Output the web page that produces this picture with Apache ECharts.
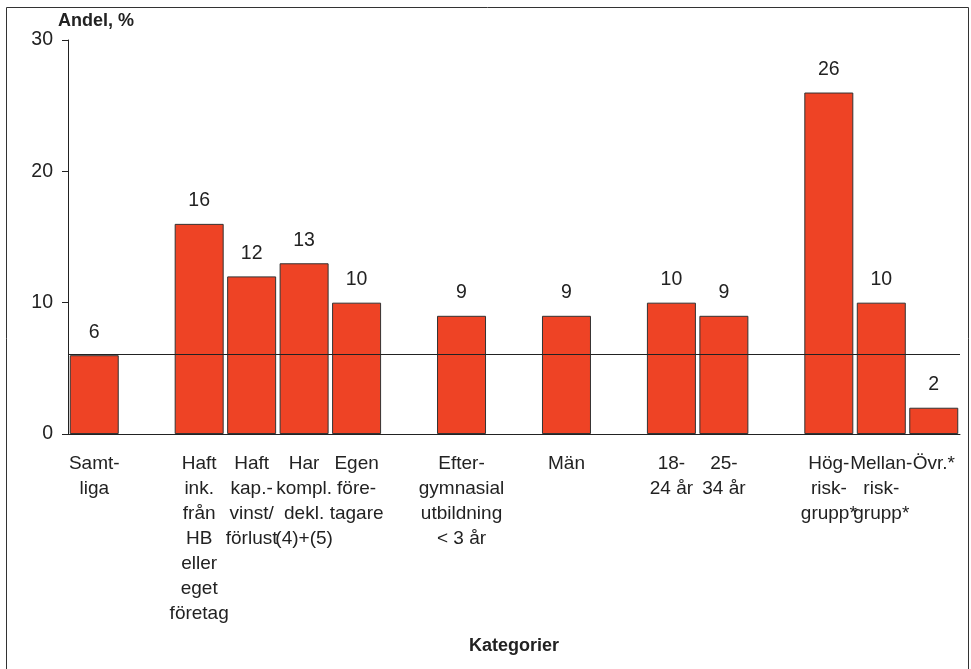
<!DOCTYPE html>
<html>
<head>
<meta charset="utf-8">
<script src="https://cdn.jsdelivr.net/npm/echarts@6/dist/echarts.min.js"></script>
<style>
  html, body { margin: 0; padding: 0; background: #fff; }
  #chart { width: 971px; height: 669px; }
</style>
</head>
<body>
<div id="chart"></div>
<script>
const categories = [
  'Samt-\nliga', '',
  'Haft\nink.\nfrån\nHB\neller\neget\nföretag',
  'Haft\nkap.-\nvinst/\nförlust',
  'Har\nkompl.\ndekl.\n(4)+(5)',
  'Egen\nföre-\ntagare', '',
  'Efter-\ngymnasial\nutbildning\n< 3 år', '',
  'Män', '',
  '18-\n24 år', '25-\n34 år', '',
  'Hög-\nrisk-\ngrupp*', 'Mellan-\nrisk-\ngrupp*', 'Övr.*'
];
const values = [6, null, 16, 12, 13, 10, null, 9, null, 9, null, 10, 9, null, 26, 10, 2];
const referenceLevel = 6.1;
const yTicks = [0, 10, 20, 30];

const font = "'Liberation Sans', Arial, sans-serif";
const chart = echarts.init(document.getElementById('chart'));

chart.setOption({
  animation: false,
  textStyle: { fontFamily: font },
  graphic: [{
    type: 'rect',
    shape: { x: 6.5, y: 7.5, width: 962, height: 700 },
    style: { fill: 'none', stroke: '#333', lineWidth: 1 },
    silent: true
  }],
  grid: { left: 68, right: 11, top: 40, bottom: 235 },
  xAxis: {
    type: 'category',
    data: categories,
    name: 'Kategorier',
    nameLocation: 'middle',
    nameGap: 203,
    nameTextStyle: { fontFamily: font, fontSize: 18, fontWeight: 'bold', color: '#222' },
    axisLine: { lineStyle: { color: '#222', width: 1 } },
    axisTick: { show: false },
    axisLabel: {
      interval: 0,
      hideOverlap: false,
      margin: 17,
      fontFamily: font,
      fontSize: 19,
      lineHeight: 25,
      color: '#222',
      verticalAlign: 'top'
    }
  },
  yAxis: {
    type: 'value',
    min: yTicks[0],
    max: yTicks[yTicks.length - 1],
    interval: 10,
    name: 'Andel, %',
    nameLocation: 'end',
    nameGap: 4,
    nameTextStyle: { fontFamily: font, fontSize: 18, fontWeight: 'bold', color: '#222', align: 'left', padding: [0, 0, 0, -10] },
    axisLine: { show: true, lineStyle: { color: '#222', width: 1 } },
    axisTick: { show: true, length: 6, lineStyle: { color: '#222' } },
    splitLine: { show: false },
    axisLabel: { fontFamily: font, fontSize: 19.5, color: '#222', margin: 15 }
  },
  series: [{
    type: 'bar',
    data: values,
    barWidth: 49,
    itemStyle: { color: '#EE4325', borderColor: '#333', borderWidth: 1 },
    label: {
      show: true,
      position: 'top',
      distance: 13,
      fontFamily: font,
      fontSize: 19.5,
      color: '#222'
    },
    markLine: {
      silent: true,
      symbol: 'none',
      label: { show: false },
      lineStyle: { color: '#222', width: 1, type: 'solid' },
      data: [{ yAxis: referenceLevel }]
    }
  }]
});
</script>
</body>
</html>
